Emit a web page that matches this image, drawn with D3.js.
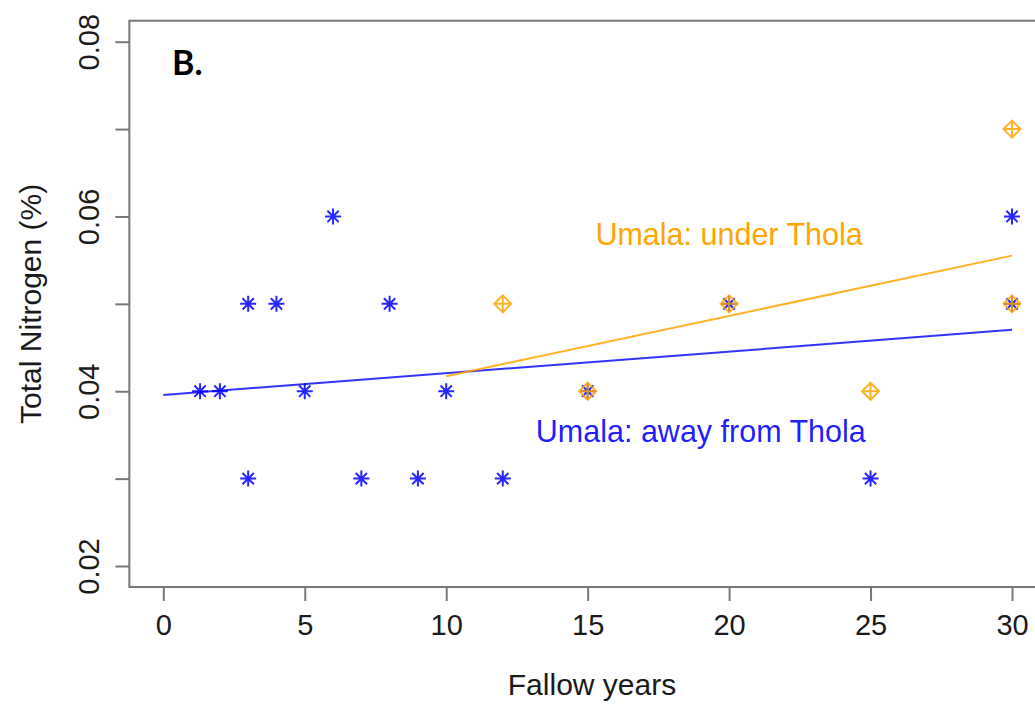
<!DOCTYPE html>
<html>
<head>
<meta charset="utf-8">
<script src="https://cdn.jsdelivr.net/npm/d3@7"></script>
<style>
  html, body { margin: 0; padding: 0; background: #fff; }
  svg { display: block; }
</style>
</head>
<body>
<svg id="chart" width="1035" height="704"></svg>
<script>
// Total nitrogen (%) against fallow years, Umala site
const awayYears = [1.3, 2, 3, 3, 4, 5, 6, 7, 8, 9, 10, 12, 15, 20, 25, 30, 30];
const awayNitrogen = [0.04, 0.04, 0.05, 0.03, 0.05, 0.04, 0.06, 0.03, 0.05, 0.03, 0.04, 0.03, 0.04, 0.05, 0.03, 0.06, 0.05];
const underYears = [12, 15, 20, 25, 30, 30];
const underNitrogen = [0.05, 0.04, 0.05, 0.04, 0.07, 0.05];

// x extent of each fitted line
const awayFitRange = [0, 30];
const underFitRange = [10, 30];

const xTicks = [0, 5, 10, 15, 20, 25, 30];
const yTicks = [0.02, 0.03, 0.04, 0.05, 0.06, 0.07, 0.08];
const yTickLabels = ["0.02", "", "0.04", "", "0.06", "", "0.08"];

const xLimits = [0, 30];
const yLimits = [0.02, 0.08];

const ORANGE = "#FFA500";
const BLUE = "#0000FF";
const FONT = "'Liberation Sans', Arial, Helvetica, sans-serif";

const svg = d3.select("#chart");

const x = d3.scaleLinear().domain(xLimits).range([163.3, 1012]);
const y = d3.scaleLinear().domain(yLimits).range([566, 41.7]);

// plotting region widened by 4% like R's default
const xPad = (xLimits[1] - xLimits[0]) * 0.04;
const yPad = (yLimits[1] - yLimits[0]) * 0.04;
const boxLeft = x(xLimits[0] - xPad), boxRight = x(xLimits[1] + xPad);
const boxTop = y(yLimits[1] + yPad), boxBottom = y(yLimits[0] - yPad);

// least-squares fit
function fit(xs, ys) {
  const n = xs.length;
  const mx = d3.mean(xs), my = d3.mean(ys);
  let sxy = 0, sxx = 0;
  for (let i = 0; i < n; i++) {
    sxy += (xs[i] - mx) * (ys[i] - my);
    sxx += (xs[i] - mx) * (xs[i] - mx);
  }
  const b = sxy / sxx;
  return { a: my - b * mx, b };
}

// axes
const xAxis = d3.axisBottom(x).tickValues(xTicks).tickSize(14).tickPadding(14)
  .tickFormat(d3.format("d"));
const gx = svg.append("g").attr("transform", `translate(0,${boxBottom})`).call(xAxis);
gx.select(".domain").remove();
gx.selectAll(".tick line").attr("stroke", "#777").attr("stroke-width", 2);
gx.selectAll(".tick text").attr("font-family", FONT).attr("font-size", 29)
  .attr("fill", "#1a1a1a").attr("dy", "0.71em").attr("y", 27);

const yAxis = d3.axisLeft(y).tickValues(yTicks).tickSize(14)
  .tickFormat((d, i) => yTickLabels[i]);
const gy = svg.append("g").attr("transform", `translate(${boxLeft},0)`).call(yAxis);
gy.select(".domain").remove();
gy.selectAll(".tick line").attr("stroke", "#777").attr("stroke-width", 2);
gy.selectAll(".tick text")
  .attr("font-family", FONT).attr("font-size", 29).attr("fill", "#1a1a1a")
  .attr("text-anchor", "middle").attr("transform", "rotate(-90)")
  .attr("x", 0).attr("y", -30).attr("dy", 0);

// frame
svg.append("rect")
  .attr("x", boxLeft).attr("y", boxTop)
  .attr("width", boxRight - boxLeft).attr("height", boxBottom - boxTop)
  .attr("fill", "none").attr("stroke", "#777").attr("stroke-width", 2);

// axis titles
svg.append("text")
  .attr("x", 592).attr("y", 695)
  .attr("text-anchor", "middle").attr("font-family", FONT).attr("font-size", 30)
  .attr("fill", "#1a1a1a").text("Fallow years");

svg.append("text")
  .attr("transform", `translate(41,${(boxTop + boxBottom) / 2}) rotate(-90)`)
  .attr("text-anchor", "middle").attr("font-family", FONT).attr("font-size", 30)
  .attr("fill", "#1a1a1a").text("Total Nitrogen (%)");

// panel letter
svg.append("text")
  .attr("x", 172).attr("y", 75)
  .attr("font-family", "Lato, 'Open Sans', sans-serif").attr("font-weight", "bold")
  .attr("font-size", 34).attr("fill", "#000").text("B.");

// fitted lines
const line = d3.line().x(d => x(d[0])).y(d => y(d[1]));
const awayFit = fit(awayYears, awayNitrogen);
const underFit = fit(underYears, underNitrogen);

svg.append("path")
  .datum(awayFitRange.map(v => [v, awayFit.a + awayFit.b * v]))
  .attr("d", line).attr("fill", "none").attr("stroke", BLUE)
  .attr("stroke-opacity", 0.8).attr("stroke-width", 2);

svg.append("path")
  .datum(underFitRange.map(v => [v, underFit.a + underFit.b * v]))
  .attr("d", line).attr("fill", "none").attr("stroke", ORANGE)
  .attr("stroke-opacity", 0.85).attr("stroke-width", 2);

// asterisk markers (away from Thola)
const r = 8, rd = r * Math.SQRT1_2;
const asterisk = `M${-r},0L${r},0M0,${-r}L0,${r}M${-rd},${-rd}L${rd},${rd}M${-rd},${rd}L${rd},${-rd}`;
svg.append("g").selectAll("path")
  .data(awayYears.map((v, i) => [v, awayNitrogen[i]]))
  .join("path")
  .attr("transform", d => `translate(${x(d[0])},${y(d[1])})`)
  .attr("d", asterisk).attr("fill", "none").attr("stroke", BLUE)
  .attr("stroke-opacity", 0.85).attr("stroke-width", 2);

// diamond-plus markers (under Thola)
const dr = 8.5;
const diamondPlus = `M0,${-dr}L${dr},0L0,${dr}L${-dr},0Z M${-dr},0L${dr},0M0,${-dr}L0,${dr}`;
svg.append("g").selectAll("path")
  .data(underYears.map((v, i) => [v, underNitrogen[i]]))
  .join("path")
  .attr("transform", d => `translate(${x(d[0])},${y(d[1])})`)
  .attr("d", diamondPlus).attr("fill", "none").attr("stroke", ORANGE)
  .attr("stroke-opacity", 0.85).attr("stroke-width", 2);

// series labels
svg.append("text")
  .attr("x", x(20)).attr("y", y(0.058)).attr("dy", "0.35em")
  .attr("text-anchor", "middle").attr("font-family", FONT).attr("font-size", 30.5)
  .attr("fill", ORANGE).text("Umala: under Thola");

svg.append("text")
  .attr("x", x(19)).attr("y", y(0.0354)).attr("dy", "0.35em")
  .attr("text-anchor", "middle").attr("font-family", FONT).attr("font-size", 30.5)
  .attr("fill", BLUE).attr("fill-opacity", 0.9).text("Umala: away from Thola");
</script>
</body>
</html>
